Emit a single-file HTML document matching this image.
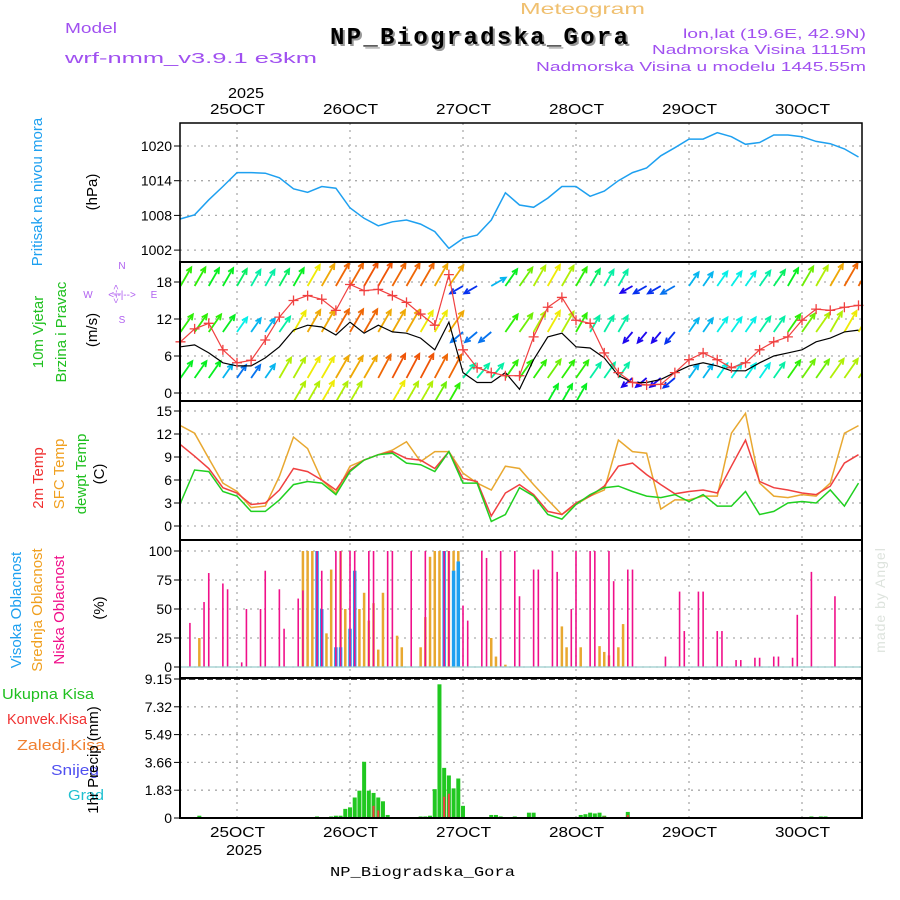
<!DOCTYPE html>
<html><head><meta charset="utf-8"><style>
html,body{margin:0;padding:0;background:#fff;width:900px;height:900px;overflow:hidden}
svg{display:block;font-family:"Liberation Sans",sans-serif}
</style></head><body>
<svg id="chart" width="900" height="900" viewBox="0 0 900 900" xmlns="http://www.w3.org/2000/svg">
<rect width="900" height="900" fill="#fff"/>
<g id="header">
<text x="65" y="33" fill="#a050f0" font-size="15" textLength="52" lengthAdjust="spacingAndGlyphs">Model</text>
<text x="65" y="63" fill="#a050f0" font-size="15" textLength="252" lengthAdjust="spacingAndGlyphs">wrf-nmm_v3.9.1 e3km</text>
<text x="520" y="14" fill="#f0c070" font-size="16" textLength="125" lengthAdjust="spacingAndGlyphs">Meteogram</text>
<text x="332" y="46" fill="#999" font-size="24" font-weight="bold" font-family="Liberation Mono,monospace" textLength="298">NP_Biogradska_Gora</text>
<text x="330" y="44" fill="#000" font-size="24" font-weight="bold" font-family="Liberation Mono,monospace" textLength="298">NP_Biogradska_Gora</text>
<text x="683" y="38" fill="#a050f0" font-size="13" textLength="183" lengthAdjust="spacingAndGlyphs">lon,lat (19.6E, 42.9N)</text>
<text x="652" y="54" fill="#a050f0" font-size="13" textLength="214" lengthAdjust="spacingAndGlyphs">Nadmorska Visina 1115m</text>
<text x="536" y="71" fill="#a050f0" font-size="13" textLength="330" lengthAdjust="spacingAndGlyphs">Nadmorska Visina u modelu 1445.55m</text>
<text x="228" y="98" font-size="15" textLength="36" lengthAdjust="spacingAndGlyphs">2025</text>
<text x="226" y="855" font-size="15" textLength="36" lengthAdjust="spacingAndGlyphs">2025</text>
<text x="330" y="876" font-size="14" font-family="Liberation Mono,monospace" textLength="185" lengthAdjust="spacingAndGlyphs">NP_Biogradska_Gora</text>
<text transform="translate(885,600) rotate(-90)" fill="#dde3dd" font-size="14" text-anchor="middle" letter-spacing="1">made by Angel</text>
</g>
<g id="labels" font-size="15">
<text transform="translate(42,192) rotate(-90)" fill="#1ea0f0" text-anchor="middle">Pritisak na nivou mora</text>
<text transform="translate(97,192) rotate(-90)" text-anchor="middle">(hPa)</text>
<text transform="translate(43,332) rotate(-90)" fill="#20c020" text-anchor="middle">10m Vjetar</text>
<text transform="translate(66,332) rotate(-90)" fill="#20c020" text-anchor="middle">Brzina i Pravac</text>
<text transform="translate(97,330) rotate(-90)" text-anchor="middle">(m/s)</text>
<g fill="#b060f0" font-size="10" text-anchor="middle">
<text x="88" y="298">W</text><text x="154" y="298">E</text><text x="122" y="269">N</text><text x="122" y="323">S</text>
<text x="122" y="298">&lt;--|--&gt;</text>
<text transform="translate(119,294) rotate(-90)" font-size="9">&lt;-|-&gt;</text>
</g>
<text transform="translate(43,478) rotate(-90)" fill="#f03030" text-anchor="middle">2m Temp</text>
<text transform="translate(64,474) rotate(-90)" fill="#f0a020" text-anchor="middle">SFC Temp</text>
<text transform="translate(86,474) rotate(-90)" fill="#20c020" text-anchor="middle">dewpt Temp</text>
<text transform="translate(104,474) rotate(-90)" text-anchor="middle">(C)</text>
<text transform="translate(21,610) rotate(-90)" fill="#1ea0f0" text-anchor="middle">Visoka Oblacnost</text>
<text transform="translate(42,610) rotate(-90)" fill="#f0a020" text-anchor="middle">Srednja Oblacnost</text>
<text transform="translate(64,610) rotate(-90)" fill="#f0108a" text-anchor="middle">Niska Oblacnost</text>
<text transform="translate(104,608) rotate(-90)" text-anchor="middle">(%)</text>
<text x="2" y="699" fill="#20c020" textLength="92" lengthAdjust="spacingAndGlyphs">Ukupna Kisa</text>
<text x="7" y="724" fill="#f03030" textLength="80" lengthAdjust="spacingAndGlyphs">Konvek.Kisa</text>
<text x="17" y="750" fill="#f08030" textLength="88" lengthAdjust="spacingAndGlyphs">Zaledj.Kisa</text>
<text x="51" y="775" fill="#5050f0" textLength="48" lengthAdjust="spacingAndGlyphs">Snijeg</text>
<text x="68" y="800" fill="#20c0d0" textLength="36" lengthAdjust="spacingAndGlyphs">Grad</text>
<text transform="translate(98,760) rotate(-90)" text-anchor="middle">1hr Precip (mm)</text>
</g>
</svg>
<script>
// ---- data (index i => hour -12+3i relative to 25OCT 00) ----
const hours3 = [];
for (let i = 0; i < 49; i++) hours3.push(-12 + 3 * i);
const dayLabels = ["25OCT","26OCT","27OCT","28OCT","29OCT","30OCT"];
const pressure = [1007.4,1008.1,1010.7,1013,1015.4,1015.4,1015.3,1014.5,1012.6,1012,1013,1012.7,1009.3,1007.5,1006.2,1006.9,1007.2,1006.5,1005.2,1002.3,1004,1004.6,1007.2,1011.9,1009.8,1009.4,1011,1013,1013,1011.3,1012.2,1014,1015.4,1016.2,1018.3,1019.7,1021.2,1021.2,1022.3,1021.6,1020.3,1020.6,1021.9,1021.9,1021.6,1020.8,1020.4,1019.5,1018.1];
const pressureTicks = [1002,1008,1014,1020];
const windSpeed = [8.3,10.4,11.3,7,4.9,5.3,8.6,12.3,15,15.8,15.2,13.4,17.6,16.6,16.8,15.8,14.7,12.8,11,19.2,7,4.1,3.3,2.8,2.8,9.1,13.9,15.5,11.8,11.3,6.5,3.3,1.7,1.3,1.4,3.3,5.4,6.5,5.4,4.1,4.9,7,8.3,9.1,11.8,13.6,13.4,13.9,14.2];
const windBlack = [7.5,7.8,6.5,4.9,4.4,4.4,5.7,7.5,10.2,11,10.7,9.4,11.5,9.7,11,9.9,9.7,8.9,7,11.5,3.3,1.7,1.7,3.3,0.6,5.4,9.1,9.7,7.5,7.3,5.7,2.8,1.7,1.7,2.2,3.3,4.4,4.9,4.4,3.6,3.6,4.9,6,6.5,7,8.3,8.9,9.9,10.2];
const windTicks = [0,6,12,18];
const vecTopSpd = [10,10,9,9,8,7,7,8,9,13,14,15,15,16,16,15,15,15,14,14,3,3,5,9,11,12,13,12,10,8,7,7,2,3,3,4,5,5,6,6,6,7,8,9,11,12,14,15,15];
const vecTopDir = [60,60,60,60,60,60,60,60,60,60,60,60,60,60,60,60,60,60,60,55,210,210,30,55,55,60,60,60,60,60,60,60,210,210,210,210,55,55,55,55,55,55,55,60,60,60,60,60,60];
const vecMidSpd = [10,10,10,9,6,5,5,7,13,14,14,15,15,15,14,14,14,13,13,14,4,4,4,10,11,12,13,12,10,7,7,7,2,2,2,3,5,5,6,6,6,7,7,10,11,12,12,13,13];
const vecMidDir = [55,55,55,55,55,55,55,55,60,60,60,60,60,60,60,60,60,60,60,55,220,220,220,55,55,60,60,60,60,60,60,60,230,230,230,230,55,55,55,55,55,55,55,55,55,55,60,60,60];
const vecLowSpd = [9,9,9,5,4,4,5,12,12,13,13,14,14,14,15,16,16,16,15,15,7,7,7,10,10,10,11,10,10,7,7,7,2,2,2,3,5,5,6,6,6,6,7,10,11,11,12,12,12];
const vecLowDir = [55,55,55,55,55,55,55,60,60,60,60,60,60,60,62,62,62,62,62,62,50,50,50,55,55,55,55,55,55,55,55,55,220,220,220,220,55,55,55,55,55,55,55,55,55,55,55,55,55];
const vecBotSpd = [0,0,0,0,0,0,0,0,12,12,13,12,12,0,0,13,12,12,11,10,0,0,0,0,0,0,9,9,9,0,0,0,0,0,0,0,0,0,0,0,0,0,0,0,0,0,0,0,0];
const tempSfc = [13.1,12.1,8.8,5.6,4.5,2.4,2.6,6.5,11.6,10.1,6,4.3,7.8,8.6,9.3,9.9,11,8.4,9.7,9.7,6.9,5.6,4.7,7.8,7.5,5.4,3.4,1.5,2.8,3.9,4.7,11.2,9.7,9.5,2.2,3.4,3.4,3.9,3.9,12.1,14.7,5.6,3.9,3.7,4.1,3.9,5.6,12.1,13.1];
const temp2m = [10.6,9.1,7.5,5,4.3,2.8,3,4.7,7.5,7.1,6,4.7,7.3,8.6,9.3,9.7,8.8,8.6,7.5,9.7,6.2,5.8,1.3,4.3,5.4,4.1,1.9,1.5,3,3.9,5.2,7.8,8.2,6.7,5.4,4.2,4.5,4.7,4.3,7.8,11.2,5.8,5,4.7,4.3,4.1,5.2,8.2,9.3];
const tempDew = [3,7.3,7.1,4.5,3.9,1.9,1.9,3.4,5.4,5.8,5.6,4.1,7.1,8.6,9.3,9.5,8.2,8,7.1,9.7,5.6,5.6,0.6,1.5,5,3.9,1.5,0.9,2.8,4.1,5,5.2,4.5,3.9,3.7,4.1,3.2,4.1,2.6,2.6,4.5,1.5,1.9,3,3.2,3,4.7,2.6,5.6];
const tempTicks = [0,3,6,9,12,15];
const cloudLowHours = [-10,-7,-6,-3,-2,1,2,5,6,9,10,13,14,17,18,21,22,24,25,28,29,32,33,37,40,44,45,48,49,52,53,56,59,60,63,64,67,68,71,72,75,76,79,80,83,84,91,94,95,98,99,102,103,106,107,110,111,114,115,118,119,122,127];
const cloudLow = [38,56,81,72,67,4,50,50,83,67,33,59,66,100,83,100,100,100,100,100,100,100,100,100,100,100,100,53,40,100,94,100,100,61,84,84,100,82,50,100,100,100,100,74,84,84,9,65,31,65,65,31,31,6,6,8,8,9,9,8,45,82,61];
const cloudMidHours = [-8,14,15,16,19,20,22,23,26,27,28,29,30,31,34,35,39,40,41,42,43,44,45,46,47,54,55,57,69,70,73,77,78,79,81,82];
const cloudMid = [25,100,100,100,29,84,100,50,50,64,40,55,15,64,27,17,17,43,95,100,100,100,100,100,100,25,9,2,35,17,17,18,13,10,17,37];
const cloudHighHours = [17,18,21,22,24,25,44,46,47];
const cloudHigh = [100,50,17,17,33,83,100,83,91];
const cloudTicks = [0,25,50,75,100];
const precipHours = [-8,17,20,21,22,23,24,25,26,27,28,29,30,31,32,39,40,41,42,43,44,45,46,47,48,54,55,56,59,62,63,73,74,75,76,77,78,83,122,124,125];
const precipTotal = [0.15,0.1,0.1,0.15,0.15,0.6,0.7,1.35,1.8,3.7,1.8,1.65,1.35,1.1,0.2,0.1,0.1,0.15,1.9,8.8,3.3,2.8,1.95,2.6,0.8,0.2,0.2,0.1,0.1,0.35,0.35,0.2,0.25,0.35,0.3,0.35,0.15,0.4,0.1,0.1,0.1];
const convHours = [29,30,44,45,78,83];
const convPrecip = [0.8,0.5,1.4,1.6,0.1,0.2];
const precipTicks = [0,1.83,3.66,5.49,7.32,9.15];

// ---- axes ----
const X0 = 180, X1 = 862;
const xOf = h => 237 + h * 113 / 24;
const yP = p => 146 + (1020 - p) * 34.7 / 6;
const yW = s => 393 - s * 37 / 6;
const yT = t => 526 - t * 23 / 3;
const yC = c => 667 - c * 1.16;
const yR = r => 818 - r * 139 / 9.15;
const panels = [
  {name:'pressure-panel', top:123, bot:262},
  {name:'wind-panel', top:262, bot:401},
  {name:'temp-panel', top:401, bot:540},
  {name:'cloud-panel', top:540, bot:678},
  {name:'precip-panel', top:678, bot:818}
];
const NS = 'http://www.w3.org/2000/svg';
const svg = document.getElementById('chart');
function mk(tag, attrs, parent) {
  const e = document.createElementNS(NS, tag);
  for (const k in attrs) e.setAttribute(k, attrs[k]);
  (parent || svg).appendChild(e);
  return e;
}
const defs = mk('defs', {});
const cp = mk('clipPath', {id:'windclip'}, defs);
mk('rect', {x:X0, y:262, width:X1-X0, height:139}, cp);
const cp2 = mk('clipPath', {id:'plotclip'}, defs);
mk('rect', {x:X0, y:123, width:X1-X0, height:695}, cp2);

// vertical grid + day labels
const grid = mk('g', {stroke:'#aaa', 'stroke-dasharray':'2,5', 'stroke-width':1.3});


dayLabels.forEach((d, k) => {
  const x = xOf(24 * k);
  mk('line', {x1:x, x2:x, y1:123, y2:818}, grid);
  const t1 = mk('text', {x:x - 27, y:114, 'font-size':15, textLength:55, lengthAdjust:'spacingAndGlyphs'});
  t1.textContent = d;
  
  
  const t2 = mk('text', {x:x - 27, y:837, 'font-size':15, textLength:55, lengthAdjust:'spacingAndGlyphs'});
  t2.textContent = d;
  
  
});
function hgrid(ticks, yf, fmt, name) {
  const g = mk('g', {});
  
  
  ticks.forEach(v => {
    const y = yf(v);
    mk('line', {x1:X0, x2:X1, y1:y, y2:y, stroke:'#aaa', 'stroke-dasharray':'2,5', 'stroke-width':1.3}, g);
    mk('line', {x1:X0-6, x2:X0, y1:y, y2:y, stroke:'#000'}, g);
    const t = mk('text', {x:X0-8, y:y+5, 'font-size':14, 'text-anchor':'end'}, g);
    t.textContent = fmt(v);
  });
}
hgrid(pressureTicks, yP, v => v, 'pressure-y-axis');
hgrid(windTicks, yW, v => v, 'wind-y-axis');
hgrid(tempTicks, yT, v => v, 'temp-y-axis');
hgrid(cloudTicks, yC, v => v, 'cloud-y-axis');
hgrid(precipTicks, yR, v => v.toFixed(2).replace(/^0\.00$/,'0'), 'precip-y-axis');

function line(xs, ys, color, name, w) {
  const d = xs.map((h, i) => (i ? 'L' : 'M') + xOf(h).toFixed(1) + ',' + ys[i].toFixed(1)).join('');
  const p = mk('path', {d:d, fill:'none', stroke:color, 'stroke-width':w || 1.5, 'clip-path':'url(#plotclip)'});
  
  
  return p;
}
// pressure
line(hours3, pressure.map(yP), '#1ea0f0', 'pressure-line', 1.5);

// wind vectors
const wg = mk('g', {'clip-path':'url(#windclip)'});


function hueOf(s) { return Math.max(20, 280 - s * 17); }
function vecRow(spd, dir, base) {
  spd.forEach((s, i) => {
    if (!s) return;
    const x = xOf(hours3[i]);
    const L = 12 + s * 0.95;
    const a = (dir ? dir[i] : 60) * Math.PI / 180;
    const x2 = x + L * Math.cos(a), y2 = base - L * Math.sin(a);
    const col = 'hsl(' + hueOf(s) + ',95%,48%)';
    const g = mk('g', {stroke:col, 'stroke-width':1.8, fill:'none'}, wg);
    
    
    mk('line', {x1:x, y1:base, x2:x2, y2:y2}, g);
    const b1 = a + Math.PI - 0.45, b2 = a + Math.PI + 0.45;
    mk('path', {d:'M' + (x2 + 6 * Math.cos(b1)) + ',' + (y2 - 6 * Math.sin(b1)) + 'L' + x2 + ',' + y2 + 'L' + (x2 + 6 * Math.cos(b2)) + ',' + (y2 - 6 * Math.sin(b2))}, g);
  });
}
vecRow(vecTopSpd, vecTopDir, 286);
vecRow(vecMidSpd, vecMidDir, 332);
vecRow(vecLowSpd, vecLowDir, 378);
vecRow(vecBotSpd, null, 402);
line(hours3, windBlack.map(yW), '#000', 'wind-gust-line', 1.2);
line(hours3, windSpeed.map(yW), '#f04040', 'wind-speed-line', 1.2);
const mg = mk('g', {stroke:'#f04040', 'stroke-width':1.3});


windSpeed.forEach((s, i) => {
  const x = xOf(hours3[i]), y = yW(s);
  mk('path', {d:'M' + (x-5) + ',' + y + 'h10M' + x + ',' + (y-5) + 'v10'}, mg);
});

// temperatures
line(hours3, tempSfc.map(yT), '#e8a830', 'sfc-temp-line', 1.5);
line(hours3, temp2m.map(yT), '#f04040', 'temp-2m-line', 1.5);
line(hours3, tempDew.map(yT), '#20d020', 'dewpoint-line', 1.5);

// clouds
function bars(hrs, vals, yf, color, w, name, base) {
  const g = mk('g', {fill:color});
  
  
  hrs.forEach((h, i) => {
    const y = yf(vals[i]);
    mk('rect', {x:xOf(h) - w / 2, y:y, width:w, height:Math.max(0, base - y)}, g);
  });
}
bars(cloudMidHours, cloudMid, yC, '#e8a830', 2.5, 'mid-cloud-bars', 667);
bars(cloudHighHours, cloudHigh, yC, '#1ea0f0', 3.5, 'high-cloud-bars', 667);
bars(cloudLowHours, cloudLow, yC, '#f0108a', 1.6, 'low-cloud-bars', 667);
mk('line', {x1:X0, x2:X1, y1:667, y2:667, stroke:'#9cc', 'stroke-width':1.2});

// precipitation
bars(precipHours, precipTotal, yR, '#20c820', 4, 'total-precip-bars', 818);
bars(convHours, convPrecip, yR, '#f04040', 2, 'convective-precip-bars', 818);
mk('line', {x1:X0, x2:X1, y1:679, y2:679, stroke:'#000', 'stroke-dasharray':'6,3', 'stroke-width':1.5});
mk('line', {x1:X0, x2:X1, y1:818, y2:818, stroke:'#000', 'stroke-dasharray':'6,3', 'stroke-width':1.5});

// panel frames
panels.forEach(p => {
  const r = mk('rect', {x:X0, y:p.top, width:X1-X0, height:p.bot-p.top, fill:'none', stroke:'#000', 'stroke-width':p.top === 123 ? 1.5 : 2});
  
  
});
</script>
</body></html>
